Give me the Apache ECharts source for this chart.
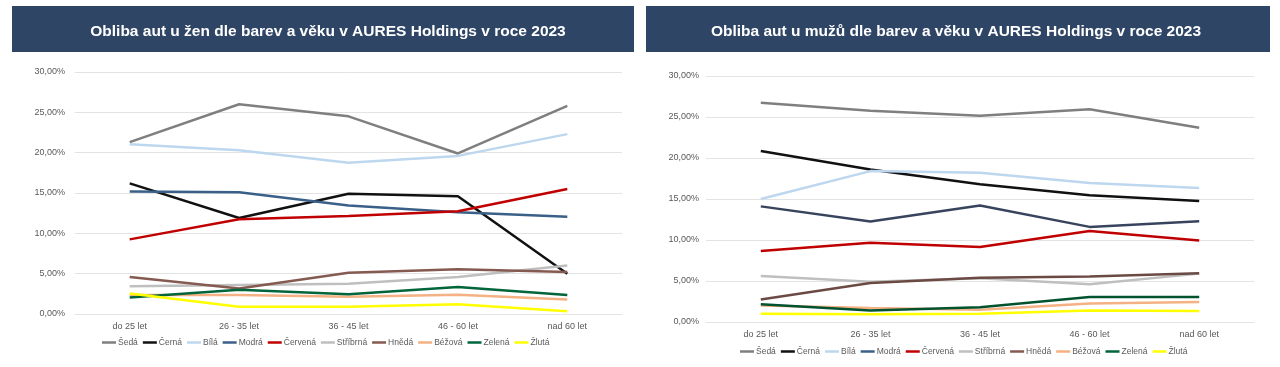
<!DOCTYPE html>
<html><head><meta charset="utf-8">
<script src="https://cdn.jsdelivr.net/npm/echarts@6/dist/echarts.min.js"></script>
<style>html,body{margin:0;padding:0;background:#fff}#c{width:1280px;height:367px}</style>
</head><body><div id="c"></div>
<script>
const categories = ["do 25 let", "26 - 35 let", "36 - 45 let", "46 - 60 let", "nad 60 let"];
const seriesNames = ["Šedá", "Černá", "Bílá", "Modrá", "Červená", "Stříbrná", "Hnědá", "Béžová", "Zelená", "Žlutá"];
const yTicks = [0, 5, 10, 15, 20, 25, 30];
const titleWomen = "Obliba aut u žen dle barev a věku v AURES Holdings v roce 2023";
const titleMen = "Obliba aut u mužů dle barev a věku v AURES Holdings v roce 2023";

// women (left chart), percent
const wSeda     = [21.3, 26.0, 24.5, 19.9, 25.8];
const wCerna    = [16.2, 11.9, 14.9, 14.6, 5.0];
const wBila     = [21.05, 20.3, 18.75, 19.6, 22.3];
const wModra    = [15.2, 15.1, 13.45, 12.6, 12.05];
const wCervena  = [9.25, 11.75, 12.15, 12.75, 15.5];
const wStribrna = [3.45, 3.6, 3.75, 4.6, 6.0];
const wHneda    = [4.6, 3.15, 5.1, 5.55, 5.2];
const wBezova   = [2.35, 2.35, 2.15, 2.4, 1.8];
const wZelena   = [2.05, 3.0, 2.45, 3.35, 2.35];
const wZluta    = [2.55, 0.9, 0.9, 1.2, 0.35];

// men (right chart), percent
const mSeda     = [26.75, 25.75, 25.15, 25.95, 23.7];
const mCerna    = [20.85, 18.6, 16.8, 15.45, 14.75];
const mBila     = [15.0, 18.4, 18.2, 16.95, 16.35];
const mModra    = [14.1, 12.25, 14.2, 11.6, 12.3];
const mCervena  = [8.65, 9.65, 9.15, 11.1, 9.95];
const mStribrna = [5.6, 4.9, 5.35, 4.6, 5.9];
const mHneda    = [2.75, 4.75, 5.4, 5.55, 5.95];
const mBezova   = [2.0, 1.7, 1.5, 2.25, 2.45];
const mZelena   = [2.15, 1.4, 1.8, 3.05, 3.05];
const mZluta    = [1.0, 0.95, 1.0, 1.4, 1.35];

const womenData = [wSeda, wCerna, wBila, wModra, wCervena, wStribrna, wHneda, wBezova, wZelena, wZluta];
const menData = [mSeda, mCerna, mBila, mModra, mCervena, mStribrna, mHneda, mBezova, mZelena, mZluta];
const colorsW = ["#7f7f7f", "#111111", "#bdd7ee", "#3a6088", "#c00000", "#bfbfbf", "#855a50", "#f4b183", "#00653a", "#ffff00"];
const colorsM = ["#7f7f7f", "#111111", "#bdd7ee", "#38445e", "#c00000", "#bfbfbf", "#6b4a44", "#f4b183", "#00532e", "#ffff00"];

const FONT = "'Liberation Sans', Arial, sans-serif";
const txt = "#595959";

function yAxis(gi, margin) {
  return {
    type: "value", gridIndex: gi, min: 0, max: 30, interval: 5,
    axisLabel: { fontSize: 9, color: txt, fontFamily: FONT, margin: margin,
      formatter: v => v.toFixed(2).replace(".", ",") + "%" },
    splitLine: { lineStyle: { color: "#e3e3e3", width: 1 } },
    axisLine: { show: false }, axisTick: { show: false }
  };
}
function xAxis(gi) {
  return {
    type: "category", gridIndex: gi, data: categories, boundaryGap: true,
    axisLabel: { fontSize: 9, color: txt, fontFamily: FONT, margin: 8 },
    axisLine: { show: true, lineStyle: { color: "#e3e3e3" } }, axisTick: { show: false }
  };
}
const series = [];
seriesNames.forEach((n, i) => {
  series.push({ name: n, type: "line", xAxisIndex: 0, yAxisIndex: 0, data: womenData[i],
    symbol: "none", lineStyle: { width: 2.5, color: colorsW[i] }, itemStyle: { color: colorsW[i] }, z: 2 + i });
});
seriesNames.forEach((n, i) => {
  series.push({ name: n, type: "line", xAxisIndex: 1, yAxisIndex: 1, data: menData[i],
    symbol: "none", lineStyle: { width: 2.5, color: colorsM[i] }, itemStyle: { color: colorsM[i] }, z: 2 + i });
});

function legend(left, top) {
  return { data: seriesNames, left: left, top: top, icon: "rect", itemWidth: 14, itemHeight: 2.5, itemGap: 5,
    textStyle: { fontSize: 8.5, color: txt, fontFamily: FONT, padding: [0, 0, 0, -3] } };
}

const chart = echarts.init(document.getElementById("c"), null, { renderer: "canvas" });
chart.setOption({
  animation: false,
  textStyle: { fontFamily: FONT },
  graphic: [
    { type: "rect", shape: { x: 12, y: 6, width: 622, height: 46 }, style: { fill: "#2f4566" }, z: -1 },
    { type: "rect", shape: { x: 646, y: 6, width: 624, height: 46 }, style: { fill: "#2f4566" }, z: -1 }
  ],
  title: [
    { text: titleWomen, left: 323, top: 19, textAlign: "center",
      textStyle: { color: "#fff", fontSize: 15.5, fontWeight: "bold", fontFamily: FONT } },
    { text: titleMen, left: 951, top: 19, textAlign: "center",
      textStyle: { color: "#fff", fontSize: 15.5, fontWeight: "bold", fontFamily: FONT } }
  ],
  grid: [
    { left: 75, right: 658, top: 72, bottom: 53 },
    { left: 706, right: 26, top: 76, bottom: 45 }
  ],
  xAxis: [xAxis(0), xAxis(1)],
  yAxis: [yAxis(0, 10), yAxis(1, 7)],
  legend: [legend(97, 333), legend(735, 342)],
  series: series
});
</script></body></html>
